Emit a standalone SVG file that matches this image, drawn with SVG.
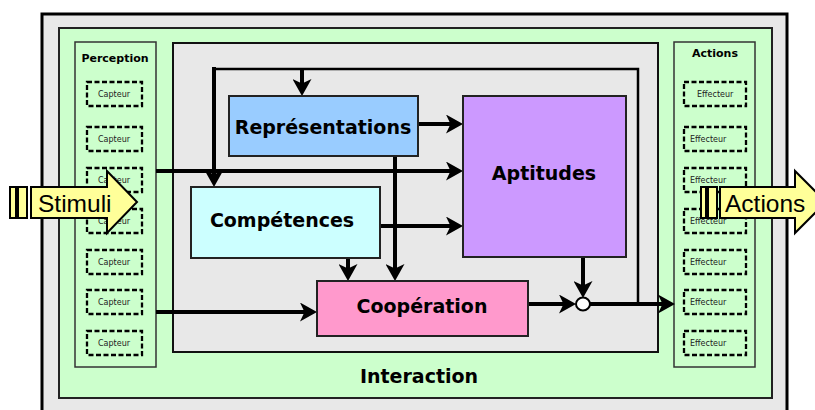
<svg xmlns="http://www.w3.org/2000/svg" width="815" height="410" viewBox="0 0 815 410">
  <style>
    .frame { fill: #e8e8e8; stroke: #000; stroke-width: 3; }
    .green { fill: #ccffcc; stroke: #222; stroke-width: 2; }
    .panel { fill: #ccffcc; stroke: #333; stroke-width: 1.5; }
    .inner { fill: #e8e8e8; stroke: #111; stroke-width: 2; }
    .dev { fill: none; stroke: #000; stroke-width: 2.3; stroke-dasharray: 5 2.5; }
    .devtxt { font-family: "DejaVu Sans", sans-serif; font-size: 8px; fill: #222; }
    .ptitle { font-family: "DejaVu Sans", sans-serif; font-weight: bold; font-size: 11px; fill: #000; text-anchor: middle; }
    .box { stroke: #222; stroke-width: 2; }
    .btxt { font-family: "DejaVu Sans", sans-serif; font-weight: bold; font-size: 19px; fill: #000; text-anchor: middle; }
    .conn { fill: none; stroke: #000; stroke-width: 4; }
    .thin { fill: none; stroke: #000; stroke-width: 2.5; }
    .big { fill: #ffff99; stroke: #000; stroke-width: 2; }
    .bigtxt { font-family: "Liberation Sans", Arial, sans-serif; font-size: 24.5px; fill: #000; }
  </style>
  <defs>
    <marker id="ah" markerUnits="userSpaceOnUse" markerWidth="17" markerHeight="19" refX="13" refY="9.5" orient="auto">
      <path d="M0,0 L17,9.5 L0,19 L4.5,9.5 Z" fill="#000"/>
    </marker>
  </defs>

  <g id="frame">
    <rect class="frame" x="42" y="14" width="745" height="410"/>
    <rect class="green" x="59" y="28" width="713" height="370"/>
    <text class="btxt" x="419" y="383">Interaction</text>
  </g>

  <g id="perception">
    <rect class="panel" x="75" y="42" width="81" height="325"/>
    <text class="ptitle" x="115" y="62">Perception</text>
    <rect class="dev" x="87" y="82" width="55" height="24"/>
    <text class="devtxt" x="98" y="97">Capteur</text>
    <rect class="dev" x="87" y="127" width="55" height="24"/>
    <text class="devtxt" x="98" y="142">Capteur</text>
    <rect class="dev" x="87" y="168" width="55" height="24"/>
    <text class="devtxt" x="98" y="183">Capteur</text>
    <rect class="dev" x="87" y="209" width="55" height="24"/>
    <text class="devtxt" x="98" y="224">Capteur</text>
    <rect class="dev" x="87" y="250" width="55" height="24"/>
    <text class="devtxt" x="98" y="265">Capteur</text>
    <rect class="dev" x="87" y="290" width="55" height="24"/>
    <text class="devtxt" x="98" y="305">Capteur</text>
    <rect class="dev" x="87" y="331" width="55" height="24"/>
    <text class="devtxt" x="98" y="346">Capteur</text>
  </g>

  <g id="actions-panel">
    <rect class="panel" x="674" y="42" width="81" height="325"/>
    <text class="ptitle" x="715" y="57">Actions</text>
    <rect class="dev" x="684" y="82" width="62" height="24"/>
    <text class="devtxt" x="697" y="97">Effecteur</text>
    <rect class="dev" x="684" y="127" width="62" height="24"/>
    <text class="devtxt" x="690" y="142">Effecteur</text>
    <rect class="dev" x="684" y="168" width="62" height="24"/>
    <text class="devtxt" x="690" y="183">Effecteur</text>
    <rect class="dev" x="684" y="209" width="62" height="24"/>
    <text class="devtxt" x="690" y="224">Effecteur</text>
    <rect class="dev" x="684" y="250" width="62" height="24"/>
    <text class="devtxt" x="690" y="265">Effecteur</text>
    <rect class="dev" x="684" y="290" width="62" height="24"/>
    <text class="devtxt" x="690" y="305">Effecteur</text>
    <rect class="dev" x="684" y="331" width="62" height="24"/>
    <text class="devtxt" x="690" y="346">Effecteur</text>
  </g>

  <g id="cognition">
    <rect class="inner" x="173" y="43" width="485" height="309"/>
  </g>

  <g id="connectors">
    <path class="thin" d="M638,304 V69 H212"/>
    <path class="conn" d="M214,67 V183" marker-end="url(#ah)"/>
    <path class="conn" d="M302,69 V92" marker-end="url(#ah)"/>
    <path class="conn" d="M418,124 H459" marker-end="url(#ah)"/>
    <path class="conn" d="M156,171 H459" marker-end="url(#ah)"/>
    <path class="conn" d="M380,226 H459" marker-end="url(#ah)"/>
    <path class="conn" d="M395,156 V277" marker-end="url(#ah)"/>
    <path class="conn" d="M348,258 V277" marker-end="url(#ah)"/>
    <path class="conn" d="M156,312 H313" marker-end="url(#ah)"/>
    <path class="conn" d="M528,304 H572" marker-end="url(#ah)"/>
    <path class="conn" d="M583,257 V294" marker-end="url(#ah)"/>
    <path class="conn" d="M590,304 H671" marker-end="url(#ah)"/>
  </g>

  <g id="representations">
    <rect class="box" x="229" y="96" width="189" height="60" fill="#99ccff"/>
    <text class="btxt" x="323" y="134">Représentations</text>
  </g>
  <g id="aptitudes">
    <rect class="box" x="463" y="96" width="163" height="161" fill="#cc99ff"/>
    <text class="btxt" x="544" y="180">Aptitudes</text>
  </g>
  <g id="competences">
    <rect class="box" x="191" y="187" width="189" height="71" fill="#ccffff"/>
    <text class="btxt" x="282" y="227">Compétences</text>
  </g>
  <g id="cooperation">
    <rect class="box" x="317" y="281" width="211" height="55" fill="#ff99cc"/>
    <text class="btxt" x="422" y="313">Coopération</text>
  </g>
  <g id="junction">
    <ellipse cx="583" cy="304" rx="7" ry="6.5" fill="#fff" stroke="#000" stroke-width="2"/>
  </g>

  <g id="stimuli">
    <rect class="big" x="10" y="187" width="6" height="31"/>
    <rect class="big" x="18" y="187" width="9" height="31"/>
    <path class="big" d="M31,187 H107 V171 L137,202 L107,233 V218 H31 Z"/>
    <text class="bigtxt" x="38" y="212">Stimuli</text>
  </g>

  <g id="actions-out">
    <rect class="big" x="701" y="187" width="5" height="31"/>
    <rect class="big" x="708" y="187" width="9" height="31"/>
    <path class="big" d="M720,187 H795 V171 L826,202 L795,233 V218 H720 Z"/>
    <text class="bigtxt" x="725" y="212">Actions</text>
  </g>
</svg>
